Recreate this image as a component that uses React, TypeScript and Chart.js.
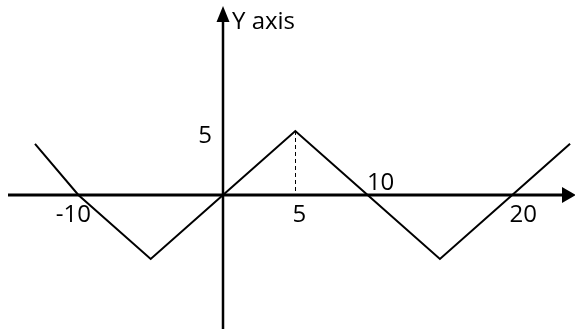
import React, { useEffect, useRef } from "react";
import { Chart, registerables } from "chart.js";

Chart.register(...registerables);

// Data
const lineX = [-13, -10, -5, 0, 5, 10, 15, 20, 24];
const lineY = [4, 0, -5, 0, 5, 0, -5, 0, 4];

const xTickValues = [-10, 5, 10, 20];
const xTickLabels = ["-10", "5", "10", "20"];
const yTickValues = [5];
const yTickLabels = ["5"];
const yAxisTitle = "Y axis";
const dashedAtX = 5;
const dashedTopY = 5;

// label placement styles (pixel offsets from the tick position)
const xLabelStyle = [
  { dx: -5, above: false },
  { dx: 4, above: false },
  { dx: 13, above: true },
  { dx: 11, above: false },
];

const FONT = "24px 'Open Sans'";

const axesPlugin = {
  id: "axesPlugin",
  afterDatasetsDraw(chart: any) {
    const ctx = chart.ctx as CanvasRenderingContext2D;
    const xs = chart.scales.x;
    const ys = chart.scales.y;
    const W = chart.width;
    const H = chart.height;
    const ox = xs.getPixelForValue(0);
    const oy = ys.getPixelForValue(0);
    ctx.save();
    ctx.strokeStyle = "#000";
    ctx.fillStyle = "#000";

    // dashed guide
    ctx.lineWidth = 1;
    ctx.setLineDash([4, 3]);
    ctx.beginPath();
    const dx = Math.round(xs.getPixelForValue(dashedAtX)) + 0.5;
    ctx.moveTo(dx, ys.getPixelForValue(dashedTopY));
    ctx.lineTo(dx, oy);
    ctx.stroke();
    ctx.setLineDash([]);

    // x axis
    ctx.lineWidth = 3;
    ctx.beginPath();
    ctx.moveTo(8, oy);
    ctx.lineTo(W - 12, oy);
    ctx.stroke();
    ctx.beginPath();
    ctx.moveTo(W - 13, oy - 8);
    ctx.lineTo(W + 1, oy);
    ctx.lineTo(W - 13, oy + 8);
    ctx.closePath();
    ctx.fill();

    // y axis
    ctx.lineWidth = 2.5;
    ctx.beginPath();
    ctx.moveTo(ox, H);
    ctx.lineTo(ox, 20);
    ctx.stroke();
    ctx.beginPath();
    ctx.moveTo(ox - 6.5, 22);
    ctx.lineTo(ox, 6);
    ctx.lineTo(ox + 6.5, 22);
    ctx.closePath();
    ctx.fill();

    // labels
    ctx.font = FONT;
    ctx.textBaseline = "alphabetic";
    ctx.textAlign = "center";
    xTickValues.forEach((v, i) => {
      const st = xLabelStyle[i];
      const px = xs.getPixelForValue(v) + st.dx;
      const py = st.above ? oy - 5 : oy + 27;
      ctx.fillText(xTickLabels[i], px, py);
    });
    yTickValues.forEach((v, i) => {
      ctx.fillText(yTickLabels[i], ox - 18, ys.getPixelForValue(v) + 12);
    });
    ctx.textAlign = "left";
    ctx.fillText(yAxisTitle, ox + 9, 29);
    ctx.restore();
  },
};

export default function App() {
  const ref = useRef<HTMLCanvasElement | null>(null);
  useEffect(() => {
    if (!ref.current) return;
    const chart = new Chart(ref.current, {
      type: "scatter",
      data: {
        datasets: [
          {
            data: lineX.map((x, i) => ({ x, y: lineY[i] })),
            showLine: true,
            borderColor: "#000",
            borderWidth: 2,
            pointRadius: 0,
            tension: 0,
            clip: false as any,
          },
        ],
      },
      options: {
        responsive: false,
        animation: false,
        layout: { padding: 0 },
        plugins: { legend: { display: false }, tooltip: { enabled: false } },
        scales: {
          x: { type: "linear", display: false, min: -15.42, max: 24.34 },
          y: { type: "linear", display: false, min: -10.47, max: 15.234 },
        },
      },
      plugins: [axesPlugin],
    });
    return () => chart.destroy();
  }, []);
  return (
    <div style={{ position: "fixed", left: 0, top: 0, width: 575, height: 329, background: "#fff" }}>
      <canvas ref={ref} width={575} height={329} style={{ width: 575, height: 329, display: "block" }} />
    </div>
  );
}
